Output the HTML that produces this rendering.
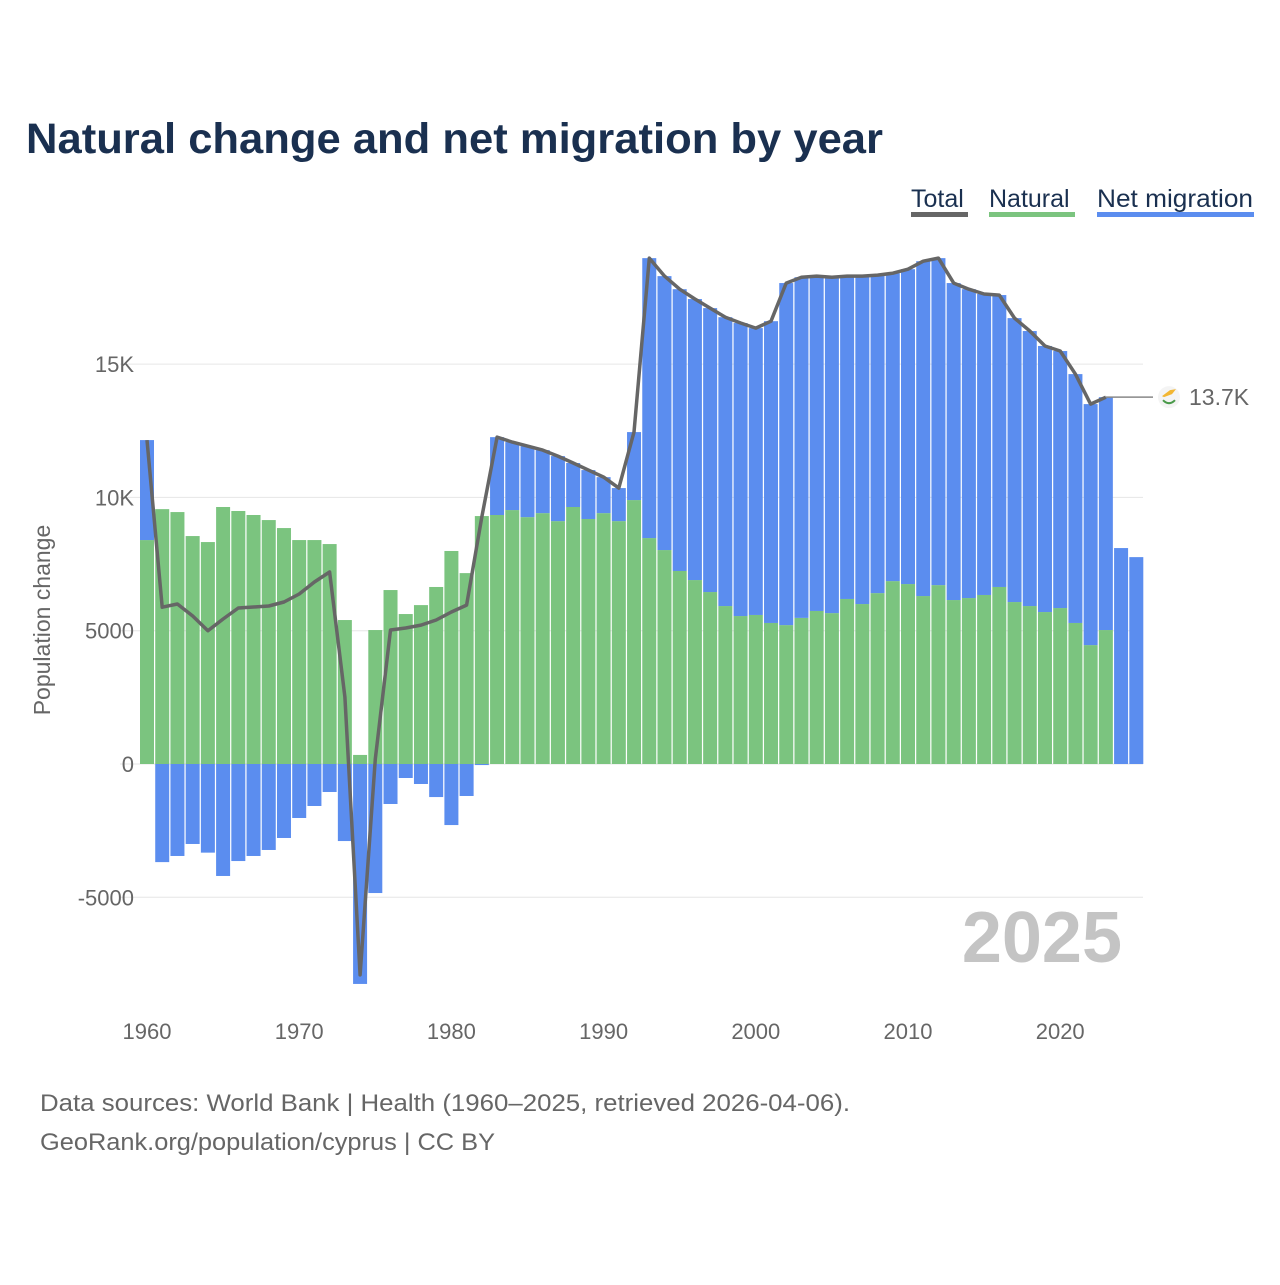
<!DOCTYPE html>
<html><head><meta charset="utf-8"><style>
body{margin:0;background:#fff;font-family:"Liberation Sans",sans-serif}
</style></head><body>
<svg id="c" width="1280" height="1280" viewBox="0 0 1280 1280" xmlns="http://www.w3.org/2000/svg">
<rect width="1280" height="1280" fill="#fff"/>
<text x="26" y="153" font-size="43" font-weight="bold" fill="#1a3050" textLength="857" lengthAdjust="spacingAndGlyphs">Natural change and net migration by year</text>
<g font-size="25" fill="#1a3050">
<g><text x="911" y="207">Total</text><rect x="911" y="212" width="57" height="5" fill="#666"/></g>
<g><text x="989" y="207">Natural</text><rect x="989" y="212" width="86" height="5" fill="#7bc47f"/></g>
<g><text x="1097" y="207" textLength="156" lengthAdjust="spacingAndGlyphs">Net migration</text><rect x="1097" y="212" width="157" height="5" fill="#5b8def"/></g>
</g>
<g id="grid"></g><g id="bars"></g><g id="line"></g><g id="axes"></g>
<text x="1122" y="962" font-size="72" font-weight="bold" fill="#c4c4c4" text-anchor="end">2025</text>
<text transform="translate(50,620) rotate(-90)" font-size="23" fill="#666" text-anchor="middle">Population change</text>
<text x="40" y="1111" font-size="24" fill="#666" textLength="810" lengthAdjust="spacingAndGlyphs">Data sources: World Bank | Health (1960–2025, retrieved 2026-04-06).</text>
<text x="40" y="1150" font-size="24" fill="#666" textLength="455" lengthAdjust="spacingAndGlyphs">GeoRank.org/population/cyprus | CC BY</text>
</svg>
<script>
const years=[];for(let y=1960;y<=2025;y++)years.push(y);
const natural=[8400,9560,9450,8550,8325,9640,9490,9340,9150,8850,8400,8400,8250,5400,340,5025,6525,5625,5960,6640,7990,7160,9300,9340,9525,9260,9410,9110,9640,9190,9410,9110,9900,8475,8025,7240,6900,6450,5925,5550,5590,5290,5210,5480,5740,5660,6190,6000,6410,6860,6750,6300,6710,6150,6225,6340,6640,6075,5925,5700,5850,5290,4460,5025,null,null];
const total=[12150,5880,6000,5550,5000,5440,5850,5890,5925,6075,6375,6825,7200,2510,-7910,185,5025,5100,5210,5400,5700,5960,9260,12260,12075,11925,11775,11550,11290,11025,10760,10350,12450,18975,18300,17810,17440,17100,16760,16540,16350,16610,18040,18260,18300,18260,18300,18300,18340,18410,18560,18860,18975,18040,17810,17630,17590,16725,16240,15680,15490,14625,13500,13760,null,null];
const migrationOnly=[8100,7760];
const yTicks=[-5000,0,5000,10000,15000];
const yTickLabels=["-5000","0","5000","10K","15K"];
const xTicks=[1960,1970,1980,1990,2000,2010,2020];
const NS="http://www.w3.org/2000/svg";
const X=y=>147+(y-1960)*15.22;
const Y=v=>764-v*133.3/5000;
function mk(t,a,p){const e=document.createElementNS(NS,t);for(const k in a)e.setAttribute(k,a[k]);p.appendChild(e);return e;}
const grid=document.getElementById('grid'),bars=document.getElementById('bars'),line=document.getElementById('line'),axes=document.getElementById('axes');
yTicks.forEach((v,i)=>{
 const g=mk('line',{x1:120,x2:1143,y1:Y(v),y2:Y(v),stroke:'#e6e6e6','stroke-width':1},grid);
 
 
 const t=mk('text',{x:134,y:Y(v)+8,'font-size':22,fill:'#666','text-anchor':'end'},axes);
 t.textContent=yTickLabels[i];
 
 
});
xTicks.forEach(y=>{
 const t=mk('text',{x:X(y),y:1039,'font-size':22,fill:'#666','text-anchor':'middle'},axes);
 t.textContent=y;
 
 
});
const bw=14;
years.forEach((yr,i)=>{
 const x=X(yr)-bw/2;
 let n=natural[i],tot=total[i];
 let m;
 if(n===null){m=migrationOnly[i-64];n=0;}else m=tot-n;
 if(n>0){const r=mk('rect',{x:x,y:Y(n),width:bw,height:Y(0)-Y(n),fill:'#7bc47f'},bars);
  
  }
 let y0,y1;
 if(m>=0){y0=Y(n+m);y1=Y(n);}else{y0=Y(0);y1=Y(m);}
 const r2=mk('rect',{x:x,y:y0,width:bw,height:Math.max(0,y1-y0),fill:'#5b8def'},bars);
 
 
});
let pts=[];years.forEach((yr,i)=>{if(total[i]!==null)pts.push(X(yr).toFixed(1)+','+Y(total[i]).toFixed(1));});
const pl=mk('polyline',{points:pts.join(' '),fill:'none',stroke:'#666','stroke-width':3.5,'stroke-linejoin':'round'},line);


const li=total.length-3, ly=Y(total[li]);
const cl=mk('line',{x1:X(years[li]),x2:1153,y1:ly,y2:ly,stroke:'#888','stroke-width':1.5},line);


const ci=mk('circle',{cx:1169,cy:ly,r:11,fill:'#f4f4f4'},line);


const fl=mk('path',{d:`M1162 ${ly-1} l8 -6 l6 -1 l-4 5 l-8 3 z`,fill:'#f2b632'},line);


const fb=mk('path',{d:`M1163 ${ly+3} q6 6 12 0`,fill:'none',stroke:'#4a9a4a','stroke-width':2},line);


const et=mk('text',{x:1189,y:ly+8,'font-size':23,fill:'#666'},line);
et.textContent='13.7K';


</script>
</body></html>
